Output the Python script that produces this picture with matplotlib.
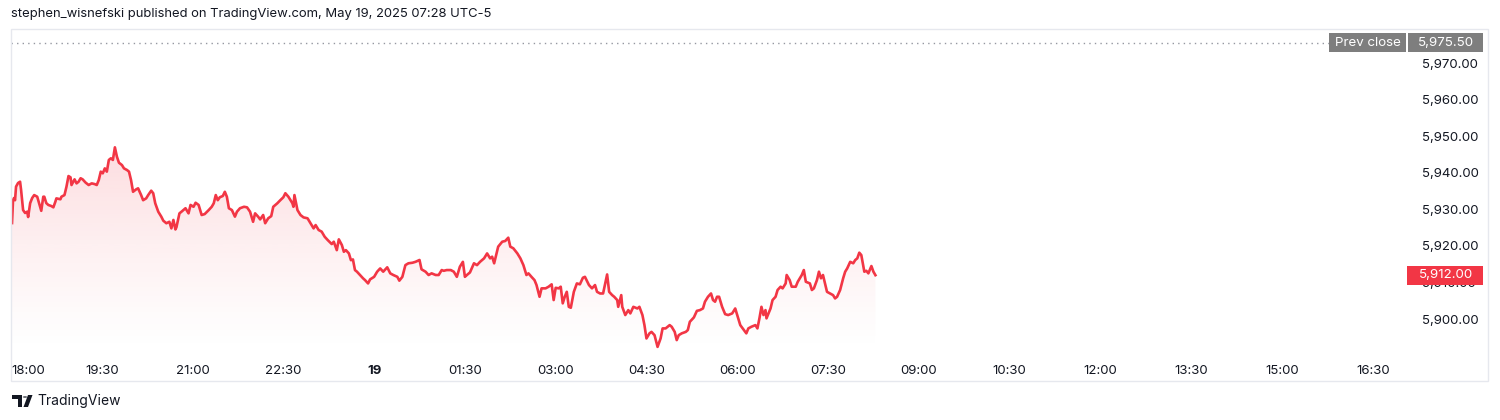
import numpy as np
import matplotlib
matplotlib.use("Agg")
from matplotlib import pyplot as plt
from matplotlib.patches import Rectangle, Polygon, Circle
from matplotlib.transforms import blended_transform_factory
from matplotlib.ticker import FuncFormatter

plt.rcParams["font.family"] = ["Inter", "DejaVu Sans"]

# data: minutes after 18:00 (May 18) and price
t_min = [1, 2, 3, 4, 5, 7, 9, 10, 12, 14, 16, 17, 19, 21, 23, 26, 27, 30, 32, 33,
         35, 37, 40, 42, 44, 45, 49, 50, 53, 55, 57, 59, 60, 63, 65, 67, 69, 71, 74, 77,
         80, 83, 85, 87, 89, 91, 93, 95, 97, 99, 101, 103, 105, 107, 110, 112, 115, 117, 119, 121,
         124, 126, 129, 131, 134, 136, 139, 141, 143, 146, 149, 151, 154, 157, 159, 161, 163, 164, 167, 169,
         173, 176, 178, 181, 183, 186, 189, 192, 196, 199, 201, 203, 205, 207, 210, 212, 214, 216, 219, 222,
         224, 227, 231, 234, 237, 240, 242, 245, 247, 250, 252, 255, 258, 260, 264, 267, 270, 272, 275, 279,
         280, 281, 284, 287, 290, 294, 297, 300, 302, 305, 308, 311, 314, 318, 320, 323, 325, 328, 330, 332,
         335, 337, 339, 341, 343, 346, 349, 351, 354, 356, 360, 363, 366, 369, 373, 376, 379, 383, 385, 388,
         391, 394, 398, 401, 405, 407, 411, 414, 417, 421, 424, 427, 429, 432, 436, 439, 442, 445, 448, 450,
         452, 455, 459, 462, 465, 469, 472, 475, 477, 479, 483, 487, 490, 493, 495, 498, 502, 505, 508, 511,
         513, 516, 519, 521, 524, 526, 530, 533, 536, 538, 540, 543, 545, 547, 549, 551, 553, 555, 558, 561,
         564, 567, 569, 573, 576, 579, 581, 584, 587, 591, 593, 596, 598, 601, 602, 605, 606, 609, 612, 614,
         617, 621, 623, 626, 628, 630, 633, 635, 638, 641, 644, 646, 649, 653, 655, 658, 660, 662, 665, 669,
         671, 673, 677, 680, 683, 686, 688, 691, 694, 696, 698, 700, 702, 705, 708, 711, 715, 718, 720, 723,
         726, 729, 731, 734, 738, 740, 742, 744, 746, 748, 749, 753, 755, 758, 760, 763, 765, 768, 769, 772,
         774, 778, 780, 782, 784, 786, 788, 792, 794, 796, 799, 801, 803, 805, 807, 809, 812, 815, 817, 819,
         822, 825, 827, 829, 832, 835, 837, 839, 841, 843, 846, 848, 850, 853, 855, 857]
prices = [5926.25, 5932.5, 5933.1, 5932.5, 5936.2, 5937.2, 5937.55, 5935.3, 5929.8, 5929.0,
          5929.35, 5927.9, 5931.7, 5933.1, 5933.9, 5933.45, 5932.5, 5929.6, 5933.45, 5933.45,
          5931.7, 5931.2, 5930.9, 5930.55, 5932.1, 5933.0, 5932.75, 5933.45, 5933.9, 5936.2,
          5939.1, 5938.75, 5936.65, 5938.2, 5937.1, 5937.55, 5938.5, 5938.2, 5937.3, 5936.65,
          5937.1, 5936.9, 5936.65, 5938.0, 5940.3, 5939.85, 5941.2, 5940.3, 5943.5, 5943.95,
          5943.5, 5946.95, 5944.4, 5942.75, 5942.1, 5941.2, 5940.75, 5940.3, 5938.0, 5934.8,
          5935.45, 5935.75, 5933.9, 5932.5, 5933.0, 5933.9, 5935.1, 5934.4, 5931.65, 5929.35,
          5928.0, 5926.9, 5926.2, 5926.6, 5924.8, 5927.1, 5924.5, 5925.1, 5928.9, 5929.35,
          5930.3, 5928.9, 5931.2, 5930.7, 5931.8, 5931.2, 5928.45, 5928.7, 5929.8, 5930.7,
          5931.65, 5933.9, 5932.5, 5933.3, 5933.65, 5934.8, 5933.45, 5930.3, 5929.8, 5928.0,
          5929.35, 5930.3, 5930.7, 5930.55, 5929.35, 5926.6, 5928.9, 5928.0, 5927.25, 5928.45,
          5926.2, 5927.55, 5928.15, 5930.7, 5931.65, 5932.5, 5933.3, 5934.4, 5933.45, 5931.65,
          5930.7, 5933.9, 5929.8, 5928.45, 5927.8, 5927.55, 5926.2, 5924.8, 5925.7, 5924.35,
          5923.9, 5922.5, 5921.6, 5920.5, 5921.15, 5918.85, 5921.8, 5920.25, 5918.4, 5918.85,
          5917.95, 5916.1, 5916.3, 5913.4, 5912.95, 5912.05, 5911.15, 5910.65, 5909.75, 5910.85,
          5911.55, 5912.95, 5913.85, 5912.95, 5914.15, 5912.5, 5912.05, 5911.55, 5910.5, 5911.55,
          5914.75, 5915.25, 5915.4, 5915.65, 5916.15, 5913.6, 5912.95, 5912.05, 5912.5, 5912.05,
          5912.05, 5913.4, 5913.2, 5913.4, 5913.4, 5912.95, 5911.55, 5914.3, 5915.65, 5911.55,
          5912.05, 5912.75, 5915.25, 5914.75, 5915.65, 5916.6, 5917.95, 5916.6, 5917.05, 5915.25,
          5919.8, 5921.15, 5921.35, 5922.25, 5919.8, 5919.35, 5917.95, 5916.6, 5914.75, 5912.05,
          5912.5, 5911.55, 5910.65, 5909.3, 5906.1, 5908.4, 5908.4, 5908.85, 5909.5, 5905.2,
          5908.55, 5908.4, 5908.85, 5904.3, 5906.1, 5907.45, 5903.35, 5903.1, 5907.45, 5909.75,
          5909.5, 5911.3, 5911.55, 5909.3, 5908.4, 5909.3, 5907.45, 5907.0, 5907.0, 5912.2,
          5907.45, 5906.55, 5906.1, 5905.2, 5903.35, 5906.55, 5903.35, 5901.1, 5902.45, 5901.55,
          5903.35, 5902.9, 5903.35, 5901.1, 5898.35, 5894.7, 5896.1, 5896.5, 5895.6, 5892.4,
          5894.7, 5897.45, 5897.45, 5898.35, 5897.9, 5896.5, 5894.25, 5895.6, 5896.1, 5896.5,
          5897.0, 5899.25, 5900.45, 5902.25, 5902.45, 5902.9, 5904.75, 5906.1, 5907.0, 5905.2,
          5904.75, 5906.1, 5906.1, 5903.35, 5901.35, 5901.1, 5901.55, 5902.9, 5901.1, 5898.35,
          5897.2, 5896.1, 5897.45, 5897.9, 5898.35, 5897.45, 5900.2, 5903.35, 5901.1, 5902.45,
          5900.2, 5902.9, 5905.2, 5906.1, 5907.95, 5908.85, 5908.4, 5909.75, 5912.05, 5910.65,
          5908.85, 5908.85, 5910.2, 5911.15, 5912.05, 5913.4, 5910.2, 5909.75, 5907.95, 5908.4,
          5910.65, 5912.95, 5911.15, 5912.05, 5909.75, 5907.45, 5907.0, 5906.55, 5905.65, 5906.1,
          5907.95, 5911.15, 5912.95, 5913.85, 5915.65, 5915.25, 5916.15, 5916.6, 5918.15, 5917.5,
          5912.95, 5913.2, 5912.5, 5914.5, 5912.95, 5912.0]

prev_close = 5975.50
last_price = 5912.00

x_ticks = [0, 90, 180, 270, 360, 450, 540, 630, 720, 810, 900, 990, 1080, 1170, 1260, 1350]
x_labels = ["18:00", "19:30", "21:00", "22:30", "19", "01:30", "03:00", "04:30",
            "06:00", "07:30", "09:00", "10:30", "12:00", "13:30", "15:00", "16:30"]
y_ticks = [5900, 5910, 5920, 5930, 5940, 5950, 5960, 5970]

red = "#f23645"
txt = "#131722"
W, H = 1500, 420

fig = plt.figure(figsize=(15, 4.2), dpi=100)
fig.patch.set_facecolor("white")

# rahmen chart
fig.add_artist(Rectangle((11 / W, 1 - 381 / H), 1477 / W, 352 / H, transform=fig.transFigure,
                         fill=False, ec="#e6e8ee", lw=1))

ax = fig.add_axes([11 / W, 1 - 352 / H, 1396 / W, 323 / H])
for s in ax.spines.values():
    s.set_visible(False)

t = np.array(t_min)
p = np.array(prices)

# gradient area under line
poly = ax.fill_between(t, p, 5891.0, color="none", lw=0)
grad = np.linspace(0, 1, 256).reshape(-1, 1)
rgba = np.zeros((256, 1, 4))
rgba[..., 0] = 242 / 255
rgba[..., 1] = 54 / 255
rgba[..., 2] = 69 / 255
rgba[..., 3] = 0.17 * grad ** 1.2
im = ax.imshow(rgba, extent=[0, 1384, 5891.0, p.max()], origin="lower",
               aspect="auto", zorder=1, interpolation="bilinear")
im.set_clip_path(poly.get_paths()[0], transform=ax.transData)
ax.set_xlim(0, 1384)
ax.set_ylim(5891.0, 5979.3)

ax.plot(t, p, color=red, lw=1.9, zorder=3, solid_joinstyle="round")

# prev close dotted line
ax.axhline(prev_close, xmax=0.945, color="#9598a1", lw=1, ls=(0, (1, 3)), zorder=2)

# ticks
ax.set_xticks(x_ticks)
ax.set_xticklabels(x_labels)
ax.set_yticks(y_ticks)
ax.yaxis.set_major_formatter(FuncFormatter(lambda v, pos: f"{v:,.2f}"))
ax.yaxis.tick_right()
ax.tick_params(axis="both", length=0, labelsize=9.5, labelcolor=txt)
ax.tick_params(axis="y", pad=11)
ax.tick_params(axis="x", pad=9)
xl = ax.get_xticklabels()
xl[0].set_horizontalalignment("left")
xl[4].set_fontweight("bold")

# price labels on right
bt = blended_transform_factory(ax.transAxes, ax.transData)
box_h = 19 / (323 / (5979.3 - 5891.0))
ax.add_patch(Rectangle((1318 / 1396, prev_close - box_h / 2), 77 / 1396, box_h, transform=bt,
                       fc="#7e7e7e", ec="none", clip_on=False, zorder=5))
ax.text(1356.5 / 1396, prev_close, "Prev close", transform=bt, ha="center", va="center",
        color="white", fontsize=9.6, zorder=6)
ax.add_patch(Rectangle((1397 / 1396, prev_close - box_h / 2), 75 / 1396, box_h, transform=bt,
                       fc="#7e7e7e", ec="none", clip_on=False, zorder=5))
ax.text(1435 / 1396, prev_close, f"{prev_close:,.2f}", transform=bt, ha="center", va="center",
        color="white", fontsize=9.6, zorder=6)
ax.add_patch(Rectangle((1396 / 1396, last_price - box_h / 2), 76 / 1396, box_h, transform=bt,
                       fc=red, ec="none", clip_on=False, zorder=5))
ax.text(1435 / 1396, last_price, f"{last_price:,.2f}", transform=bt, ha="center", va="center",
        color="white", fontsize=9.6, zorder=6)

# header
fig.text(11 / W, 1 - 14 / H, "stephen_wisnefski published on TradingView.com, May 19, 2025 07:28 UTC-5",
         ha="left", va="center", fontsize=9.4, color=txt)

# footer logo + name
def px(x, y):
    return (x / W, 1 - y / H)

fig.add_artist(Polygon([px(12, 395), px(22, 395), px(22, 407), px(17.5, 407), px(17.5, 399), px(12, 399)],
                       closed=True, transform=fig.transFigure, fc=txt, ec="none"))
fig.add_artist(Circle(px(25, 397), 2.2 / W, transform=fig.transFigure, fc=txt, ec="none"))
fig.add_artist(Polygon([px(28, 395), px(32.5, 395), px(28, 407), px(23.5, 407)],
                       closed=True, transform=fig.transFigure, fc=txt, ec="none"))
fig.text(37 / W, 1 - 401 / H, "TradingView", ha="left", va="center", fontsize=10, color=txt)

fig.savefig("out.png", dpi=100)
